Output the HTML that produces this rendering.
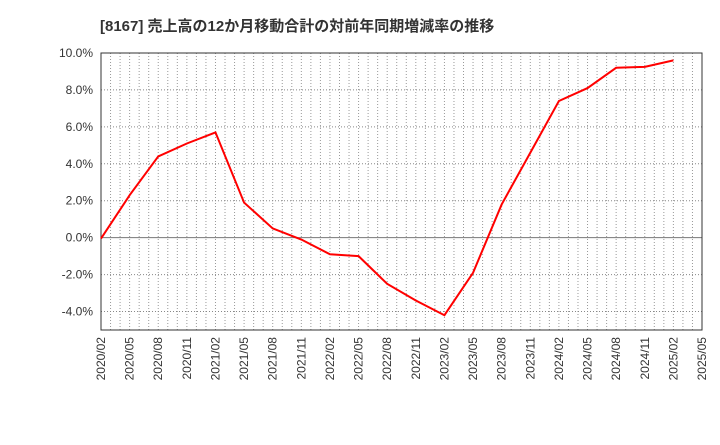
<!DOCTYPE html>
<html><head><meta charset="utf-8"><style>
body{margin:0;background:#fff;width:720px;height:440px;overflow:hidden}
svg{font-family:"Liberation Sans","Noto Sans CJK JP",sans-serif}
</style></head><body>
<svg id="c" width="720" height="440">
<text x="100" y="31" font-size="15" font-weight="bold" fill="#333">[8167]  売上高の12か月移動合計の対前年同期増減率の推移</text>
</svg>
<script>
const categories=["2020/02","2020/05","2020/08","2020/11","2021/02","2021/05","2021/08","2021/11","2022/02","2022/05","2022/08","2022/11","2023/02","2023/05","2023/08","2023/11","2024/02","2024/05","2024/08","2024/11","2025/02"];
const values=[-0.05,2.3,4.4,5.1,5.7,1.9,0.5,-0.1,-0.9,-1.0,-2.5,-3.4,-4.2,-1.9,1.8,4.6,7.4,8.1,9.2,9.25,9.6];
const xTicks=["2020/02","2020/05","2020/08","2020/11","2021/02","2021/05","2021/08","2021/11","2022/02","2022/05","2022/08","2022/11","2023/02","2023/05","2023/08","2023/11","2024/02","2024/05","2024/08","2024/11","2025/02","2025/05"];
const yTicks=[-4,-2,0,2,4,6,8,10];
const L=101,R=702,T=53,B=330,yMin=-5,yMax=10;
const svg=document.getElementById('c');const NS="http://www.w3.org/2000/svg";
function y(v){return B-(v-yMin)/(yMax-yMin)*(B-T);}
function xi(i){return L+i*(R-L)/(xTicks.length-1);}
function mk(t,a,p){const e=document.createElementNS(NS,t);for(const k in a)e.setAttribute(k,a[k]);(p||svg).appendChild(e);return e;}
// monthly vertical grid
for(let m=1;m<(xTicks.length-1)*3;m++){const x=L+m*(R-L)/((xTicks.length-1)*3);
const g=mk('line',{x1:x,x2:x,y1:T,y2:B,stroke:'#999','stroke-dasharray':'1,2','stroke-width':1});

}
yTicks.forEach(v=>{const yy=y(v);
const g=mk('line',{x1:L,x2:R,y1:yy,y2:yy,stroke:v===0?'#777':'#888','stroke-dasharray':v===0?'none':'1,2','stroke-width':1});


const t=mk('text',{x:L-8,y:yy+4,'text-anchor':'end','font-size':12,fill:'#333'});t.textContent=v.toFixed(1)+'%';

});
const fr=mk('rect',{x:L,y:T,width:R-L,height:B-T,fill:'none',stroke:'#333','stroke-width':1});


xTicks.forEach((s,i)=>{const x=xi(i);
const t=mk('text',{x:0,y:0,'text-anchor':'end','font-size':12,fill:'#333',transform:`translate(${x+4},${B+7}) rotate(-90)`});t.textContent=s;

});
const pts=values.map((v,i)=>xi(xTicks.indexOf(categories[i]))+','+y(v)).join(' ');
const pl=mk('polyline',{points:pts,fill:'none',stroke:'#f00','stroke-width':2,'stroke-linejoin':'miter'});


</script>
</body></html>
